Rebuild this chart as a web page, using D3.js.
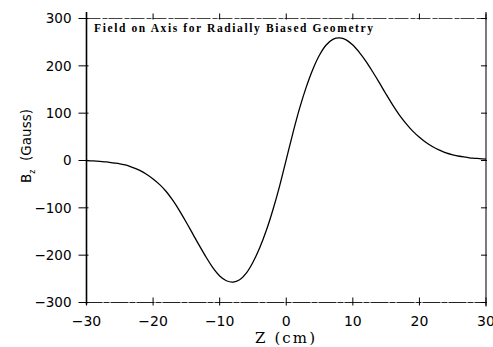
<!DOCTYPE html>
<html><head><meta charset="utf-8">
<script src="https://cdn.jsdelivr.net/npm/d3@7"></script>
<style>body{margin:0;background:#fff}svg{display:block}</style>
</head><body>
<script>
const zValues = [-30,-29,-28,-27,-26,-25,-24,-23,-22,-21,-20,-19,-18,-17,-16,-15,-14,-13,-12,-11,-10,-9,-8,-7,-6,-5,-4,-3,-2,-1,0,1,2,3,4,5,6,7,8,9,10,11,12,13,14,15,16,17,18,19,20,21,22,23,24,25,26,27,28,29,30];
const bzValues = [0,-1,-2,-3,-5,-7,-10,-15,-21,-29,-39,-51,-66,-85,-107,-131,-156,-181,-205,-227,-244,-254,-257,-252,-238,-215,-185,-148,-104,-54,2,58,110,155,193,223,244,256,259,255,244,228,209,187,164,140,117,96,78,62,49,38,29,22,16,12,9,7,5,4,3];
const xTicks = [-30,-20,-10,0,10,20,30];
const yTicks = [-300,-200,-100,0,100,200,300];
const titleText = "Field on Axis for Radially Biased Geometry";

const W = 493, H = 347;
const svg = d3.select("body").append("svg").attr("width", W).attr("height", H);
const x = d3.scaleLinear().domain([-30, 30]).range([86.5, 486]);
const y = d3.scaleLinear().domain([-300, 300]).range([302.5, 18.5]);

// frame lines
svg.append("line").attr("x1", x(-30)).attr("x2", x(-30)).attr("y1", 12).attr("y2", y(-300) + 2)
  .attr("stroke", "#000").attr("stroke-width", 1.6);
svg.append("line").attr("x1", x(30)).attr("x2", x(30)).attr("y1", 12).attr("y2", y(-300) + 4)
  .attr("stroke", "#222").attr("stroke-width", 1.2);
svg.append("line").attr("x1", x(-30)).attr("x2", x(30)).attr("y1", y(300)).attr("y2", y(300))
  .attr("stroke", "#444").attr("stroke-width", 1).attr("stroke-dasharray", "14,2,5,1");
svg.append("line").attr("x1", x(-30) - 2).attr("x2", x(30)).attr("y1", y(-300)).attr("y2", y(-300))
  .attr("stroke", "#222").attr("stroke-width", 1.1).attr("stroke-dasharray", "18,1,6,1");

// left ticks (outward, slightly crossing)
svg.append("g").selectAll("line").data(yTicks).join("line")
  .attr("x1", x(-30) - 8).attr("x2", x(-30) + 2).attr("y1", d => y(d)).attr("y2", d => y(d))
  .attr("stroke", "#000").attr("stroke-width", 1);
// right ticks (inward)
svg.append("g").selectAll("line").data(yTicks).join("line")
  .attr("x1", x(30) - 5).attr("x2", x(30) + 1).attr("y1", d => y(d)).attr("y2", d => y(d))
  .attr("stroke", "#000").attr("stroke-width", 1);
// bottom ticks
svg.append("g").selectAll("line").data(xTicks).join("line")
  .attr("x1", d => x(d)).attr("x2", d => x(d)).attr("y1", y(-300) - 5).attr("y2", y(-300) + 3)
  .attr("stroke", "#000").attr("stroke-width", 1);
// top ticks
svg.append("g").selectAll("line").data(xTicks).join("line")
  .attr("x1", d => x(d)).attr("x2", d => x(d)).attr("y1", y(300) - 5).attr("y2", y(300) + 1)
  .attr("stroke", "#000").attr("stroke-width", 1);

const fmt = d => d < 0 ? "\u2212" + Math.abs(d) : String(d);
// y tick labels
svg.append("g").selectAll("text").data(yTicks).join("text")
  .attr("x", x(-30) - 15).attr("y", d => y(d)).attr("dy", "0.36em")
  .attr("text-anchor", "end").attr("font-family", "DejaVu Sans").attr("font-size", 13.5)
  .text(fmt);
// x tick labels
svg.append("g").selectAll("text").data(xTicks).join("text")
  .attr("x", d => x(d)).attr("y", 326)
  .attr("text-anchor", "middle").attr("font-family", "DejaVu Sans").attr("font-size", 14)
  .text(fmt);

// axis titles
svg.append("text").attr("x", 285).attr("y", 343).attr("text-anchor", "middle")
  .attr("font-family", "DejaVu Serif").attr("font-size", 15)
  .attr("textLength", 60).attr("lengthAdjust", "spacing").text("Z (cm)");
const yl = svg.append("text").attr("transform", "translate(31,146) rotate(-90)")
  .attr("text-anchor", "middle").attr("font-family", "DejaVu Sans").attr("font-size", 13.5);
yl.append("tspan").text("B");
yl.append("tspan").attr("font-size", 8).attr("dy", 4).text("z");
yl.append("tspan").attr("dy", -4).text("\u00a0\u00a0(Gauss)");

// chart title
svg.append("text").attr("x", 94).attr("y", 32)
  .attr("font-family", "Liberation Serif").attr("font-weight", "bold").attr("font-size", 11.5)
  .attr("textLength", 279).attr("lengthAdjust", "spacing").text(titleText);

// curve
const data = zValues.map((z, i) => [z, bzValues[i]]);
svg.append("path").datum(data)
  .attr("fill", "none").attr("stroke", "#000").attr("stroke-width", 1.3)
  .attr("d", d3.line().x(d => x(d[0])).y(d => y(d[1])).curve(d3.curveCatmullRom));
</script>
</body></html>
